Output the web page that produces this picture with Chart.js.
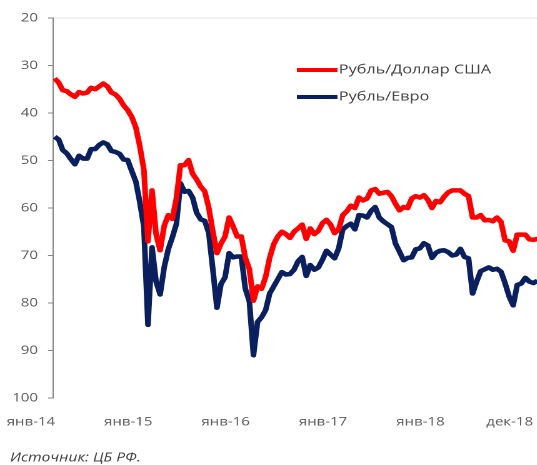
<!DOCTYPE html>
<html lang="ru">
<head>
<meta charset="utf-8">
<title>Рубль/Доллар США и Рубль/Евро</title>
<script src="https://cdn.jsdelivr.net/npm/chart.js@4"></script>
<style>
  html, body { margin: 0; padding: 0; background: #fff; overflow: hidden; }
  #wrap { width: 430px; height: 465px; transform: scaleX(1.25); transform-origin: 0 0; }
</style>
</head>
<body>
<div id="wrap"><canvas id="chartFx" width="430" height="465"></canvas></div>
<script>
// курсы ЦБ, точки на 1-е и 16-е число месяца, янв-14 ... дек-18
const usd = [
  32.7, 33.6, 35.2, 35.4, 36.1, 36.6, 35.6, 35.9, 35.7, 34.7, 35.0, 34.4,
  33.8, 34.4, 35.7, 36.1, 37.0, 38.4, 39.4, 40.8, 43.0, 47.0, 52.0, 67.0,
  56.3, 65.5, 68.9, 63.8, 61.5, 62.3, 58.0, 51.0, 51.0, 49.9, 52.8, 54.0,
  55.5, 56.5, 60.0, 65.0, 69.5, 67.5, 66.0, 62.0, 63.9, 66.0, 66.0, 70.5,
  72.9, 79.5, 76.5, 77.0, 74.5, 70.5, 67.6, 66.0, 65.0, 65.5, 66.3, 65.0,
  64.3, 63.5, 66.5, 64.3, 65.5, 64.8, 63.2, 62.5, 63.5, 65.3, 64.5, 61.5,
  60.7, 59.5, 60.0, 57.8, 58.4, 58.0, 56.3, 56.0, 57.0, 56.8, 56.6, 57.5,
  59.1, 60.5, 59.8, 60.0, 58.0, 57.5, 57.8, 57.3, 58.3, 60.0, 58.5, 58.8,
  57.6, 56.7, 56.3, 56.3, 56.3, 57.0, 57.5, 62.0, 62.0, 61.5, 62.6, 62.5,
  62.8, 62.0, 62.9, 66.8, 67.0, 69.0, 65.6, 65.6, 65.6, 66.6, 66.7, 66.5
];
const eur = [
  45.0, 45.6, 47.8, 48.5, 49.7, 50.8, 49.0, 49.6, 49.6, 47.6, 47.6, 46.7,
  46.2, 46.6, 48.0, 48.2, 48.6, 49.8, 49.9, 52.2, 54.4, 58.8, 64.0, 84.6,
  68.3, 75.5, 78.2, 72.5, 68.7, 66.2, 63.4, 54.8, 56.6, 56.4, 57.8, 61.0,
  62.4, 62.7, 65.3, 73.0, 81.0, 76.0, 74.6, 69.5, 70.4, 70.2, 70.2, 77.0,
  79.7, 91.0, 84.0, 83.0, 81.5, 78.0, 76.5, 75.0, 73.5, 74.0, 73.9, 73.0,
  71.2, 70.3, 74.3, 72.0, 73.0, 72.5, 70.9, 69.0, 69.8, 70.6, 68.5, 64.5,
  63.8, 63.3, 64.5, 61.5, 61.6, 62.0, 60.6, 59.8, 62.0, 62.8, 63.4, 64.0,
  67.5, 69.2, 71.0, 70.5, 70.4, 68.7, 68.5, 67.4, 67.9, 70.5, 69.4, 69.0,
  68.9, 69.3, 70.0, 69.8, 68.6, 70.3, 70.6, 78.0, 75.5, 73.3, 72.9, 72.5,
  73.0, 72.8, 73.4, 75.8, 78.6, 80.5, 76.2, 75.9, 74.7, 75.5, 75.8, 75.3
];
const seriesNames = ['Рубль/Доллар США', 'Рубль/Евро'];
const seriesColors = ['#ff0000', '#0a1f5e'];
const tickMonths = [0, 12, 24, 36, 48, 59];
const tickLabels = ['янв-14', 'янв-15', 'янв-16', 'янв-17', 'янв-18', 'дек-18'];
const yTicks = [20, 30, 40, 50, 60, 70, 80, 90, 100];
const sourceText = 'Источник: ЦБ РФ.';

const FONT = "'Open Sans', 'DejaVu Sans', sans-serif";

// позиция точки в месяцах от янв-14
const monthPos = usd.map((_, i) => i / 2);

const insideLegend = {
  id: 'insideLegend',
  afterDraw(chart) {
    const c = chart.ctx;
    c.save();
    chart.data.datasets.forEach((ds, i) => {
      const y = 70 + i * 27;
      c.strokeStyle = ds.borderColor;
      c.lineWidth = 4;
      c.beginPath();
      c.moveTo(237.5, y);
      c.lineTo(270, y);
      c.stroke();
      c.fillStyle = '#404040';
      c.font = `13px ${FONT}`;
      c.textBaseline = 'middle';
      c.textAlign = 'left';
      c.fillText(ds.label, 271, y);
    });
    c.font = `italic 12.5px ${FONT}`;
    c.fillStyle = '#404040';
    c.textBaseline = 'middle';
    c.fillText(sourceText, 8, 458);
    c.restore();
  }
};

function makeChart(ctx, cfg) {
  return new Chart(ctx, cfg);
}

function buildChart() {
  const ctx = document.getElementById('chartFx').getContext('2d');
  makeChart(ctx, {
    type: 'line',
    data: {
      labels: monthPos,
      datasets: [
        { label: seriesNames[0], data: usd, borderColor: seriesColors[0], borderWidth: 4.5, pointRadius: 0, tension: 0, borderJoinStyle: 'round' },
        { label: seriesNames[1], data: eur, borderColor: seriesColors[1], borderWidth: 4.5, pointRadius: 0, tension: 0, borderJoinStyle: 'round' }
      ]
    },
    options: {
      responsive: false,
      animation: false,
      devicePixelRatio: 2,
      layout: { autoPadding: false, padding: { top: 18, right: 0, bottom: 0, left: 0 } },
      plugins: { legend: { display: false }, tooltip: { enabled: false } },
      scales: {
        x: {
          type: 'linear',
          min: -0.2,
          max: 59.5,
          afterBuildTicks: (s) => { s.ticks = tickMonths.map(v => ({ value: v })); },
          afterFit: (s) => { s.height = 67; s.paddingLeft = 0; s.paddingRight = 0; },
          grid: { display: false },
          border: { display: false },
          ticks: {
            autoSkip: false,
            maxRotation: 0,
            padding: 9,
            labelOffset: -19,
            color: '#595959',
            font: { family: FONT, size: 12 },
            callback: (v) => tickLabels[tickMonths.indexOf(v)]
          }
        },
        y: {
          reverse: true,
          min: 20,
          max: 100,
          afterBuildTicks: (s) => { s.ticks = yTicks.map(v => ({ value: v })); },
          afterFit: (s) => { s.width = 42.4; s.paddingTop = 0; s.paddingBottom = 0; },
          border: { display: true, color: '#868686', width: 1 },
          grid: {
            drawOnChartArea: true,
            color: (c) => (c.tick && c.tick.value === 20 ? '#e4e4e4' : 'rgba(0,0,0,0)'),
            tickColor: '#868686',
            tickLength: 4
          },
          ticks: {
            padding: 8,
            color: '#595959',
            font: { family: FONT, size: 12 }
          }
        }
      }
    },
    plugins: [insideLegend]
  });
}

document.addEventListener('DOMContentLoaded', buildChart);
</script>
</body>
</html>
